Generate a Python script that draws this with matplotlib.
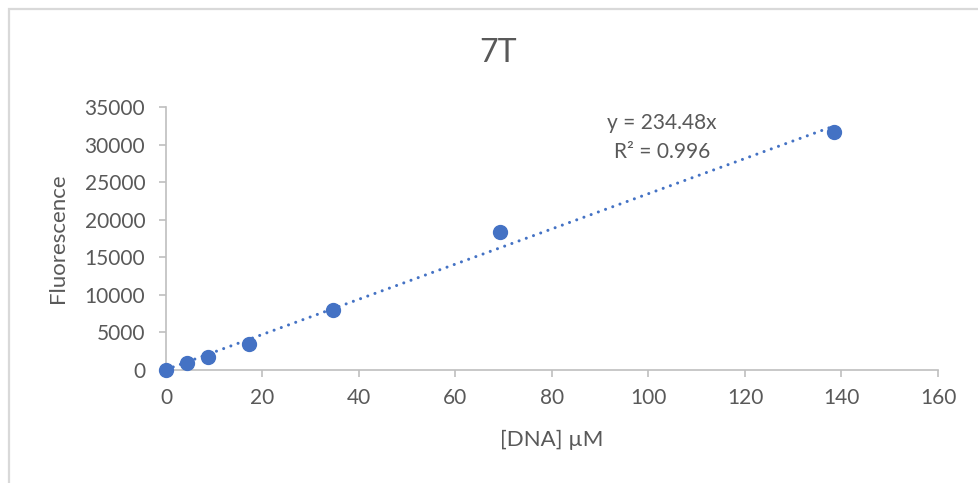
import numpy as np
import matplotlib
matplotlib.use("Agg")
import matplotlib.pyplot as plt
from matplotlib.patches import Rectangle

plt.rcParams['font.family'] = ['Lato', 'DejaVu Sans']

# DNA concentration (µM) and measured fluorescence
conc = [0, 4.33, 8.65, 17.3, 34.6, 69.2, 138.4]
fluor = [0, 845, 1730, 3470, 7985, 18395, 31660]

# Linear fit forced through the origin
slope = 234.48
r_squared = 0.996

x_ticks = [0, 20, 40, 60, 80, 100, 120, 140, 160]
y_ticks = [0, 5000, 10000, 15000, 20000, 25000, 30000, 35000]

text_color = "#595959"
axis_color = "#BFBFBF"
point_color = "#4472C4"

W, H = 979, 483
fig = plt.figure(figsize=(W / 100, H / 100), dpi=100)
fig.patch.set_facecolor("white")

# chart-area frame
fig.patches.append(Rectangle((9 / W, -0.1), 1.2, 1 - 9 / H + 0.1,
                             transform=fig.transFigure, fill=False,
                             edgecolor="#D9D9D9", linewidth=1.6))

ax = fig.add_axes([166 / W, (H - 369.6) / H, 772 / W, (369.6 - 107) / H])

ax.plot(conc, fluor, "o", color=point_color, markersize=10, zorder=3,
        clip_on=False)

fit_x = np.array([0, conc[-1]])
ax.plot(fit_x, slope * fit_x, color=point_color, linewidth=2.2,
        linestyle=(0, (0.01, 2.5)), dash_capstyle="round", zorder=2)

ax.set_xlim(0, 160)
ax.set_ylim(0, 35000)
ax.set_xticks(x_ticks)
ax.set_yticks(y_ticks)
ax.set_xticklabels([str(v) for v in x_ticks])
ax.set_yticklabels([str(v) for v in y_ticks])

for side in ("top", "right"):
    ax.spines[side].set_visible(False)
for side in ("left", "bottom"):
    ax.spines[side].set_color(axis_color)
    ax.spines[side].set_linewidth(1.2)

ax.tick_params(axis="both", direction="out", length=5, width=1.2,
               color=axis_color, labelcolor=text_color, labelsize=15)
ax.tick_params(axis="x", pad=8)
ax.tick_params(axis="y", pad=10)

ax.set_xlabel("[DNA] µM", color=text_color, fontsize=16, labelpad=16)
ax.set_ylabel("Fluorescence", color=text_color, fontsize=16, labelpad=12)

fig.text(498 / W, 1 - 53 / H, "7T", color=text_color, fontsize=23,
         ha="center", va="center")

eq = "y = 234.48x"
r2 = "R² = " + f"{r_squared:.3f}"
fig.text(662 / W, 1 - 123 / H, eq, color=text_color, fontsize=15,
         ha="center", va="center")
fig.text(662 / W, 1 - 152 / H, r2, color=text_color, fontsize=15,
         ha="center", va="center")

fig.savefig("out.png", dpi=100, facecolor="white")
